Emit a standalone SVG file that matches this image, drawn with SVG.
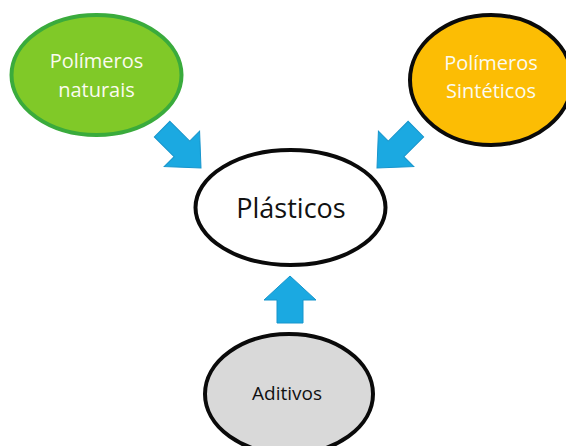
<svg xmlns="http://www.w3.org/2000/svg" width="566" height="446" viewBox="0 0 566 446">
  <style>
    .lbl { font-family: "Open Sans", "Noto Sans", "DejaVu Sans", sans-serif; text-anchor: middle; }
    .wt { fill: #fbfbf0; font-size: 20px; }
    .bk { fill: #111111; }
    .arrow { fill: #1ba9e1; stroke: #1795cc; stroke-width: 1; stroke-linejoin: miter; }
  </style>
  <defs>
    <polygon id="diag" points="-55,-11 -27,-11 -27,-25 0,0 -27,25 -27,11 -55,11"/>
  </defs>
  <rect width="566" height="446" fill="#ffffff"/>
  <g id="connectors">
    <use href="#diag" class="arrow" transform="translate(201,168) rotate(45)"/>
    <use href="#diag" class="arrow" transform="translate(377,168) rotate(135)"/>
    <polygon class="arrow" points="277,323 277,300 264,300 290,276 316,300 303,300 303,323"/>
  </g>
  <g id="polimeros-naturais">
    <ellipse cx="96.5" cy="75" rx="85" ry="60" fill="#80c928" stroke="#3aab3c" stroke-width="4"/>
    <text class="lbl wt" x="96.5" y="68">Polímeros</text>
    <text class="lbl wt" x="96.5" y="97">naturais</text>
  </g>
  <g id="polimeros-sinteticos">
    <ellipse cx="491" cy="80" rx="81" ry="65" fill="#fcbd04" stroke="#0a0a0a" stroke-width="4"/>
    <text class="lbl wt" x="491" y="70">Polímeros</text>
    <text class="lbl wt" x="491" y="98">Sintéticos</text>
  </g>
  <g id="plasticos">
    <ellipse cx="290.5" cy="207.5" rx="95" ry="57.5" fill="#ffffff" stroke="#0a0a0a" stroke-width="4"/>
    <text class="lbl bk" x="291" y="218" font-size="27">Plásticos</text>
  </g>
  <g id="aditivos">
    <ellipse cx="289" cy="394" rx="84" ry="60" fill="#d9d9d9" stroke="#0a0a0a" stroke-width="4"/>
    <text class="lbl bk" x="287" y="400" font-size="19">Aditivos</text>
  </g>
</svg>
